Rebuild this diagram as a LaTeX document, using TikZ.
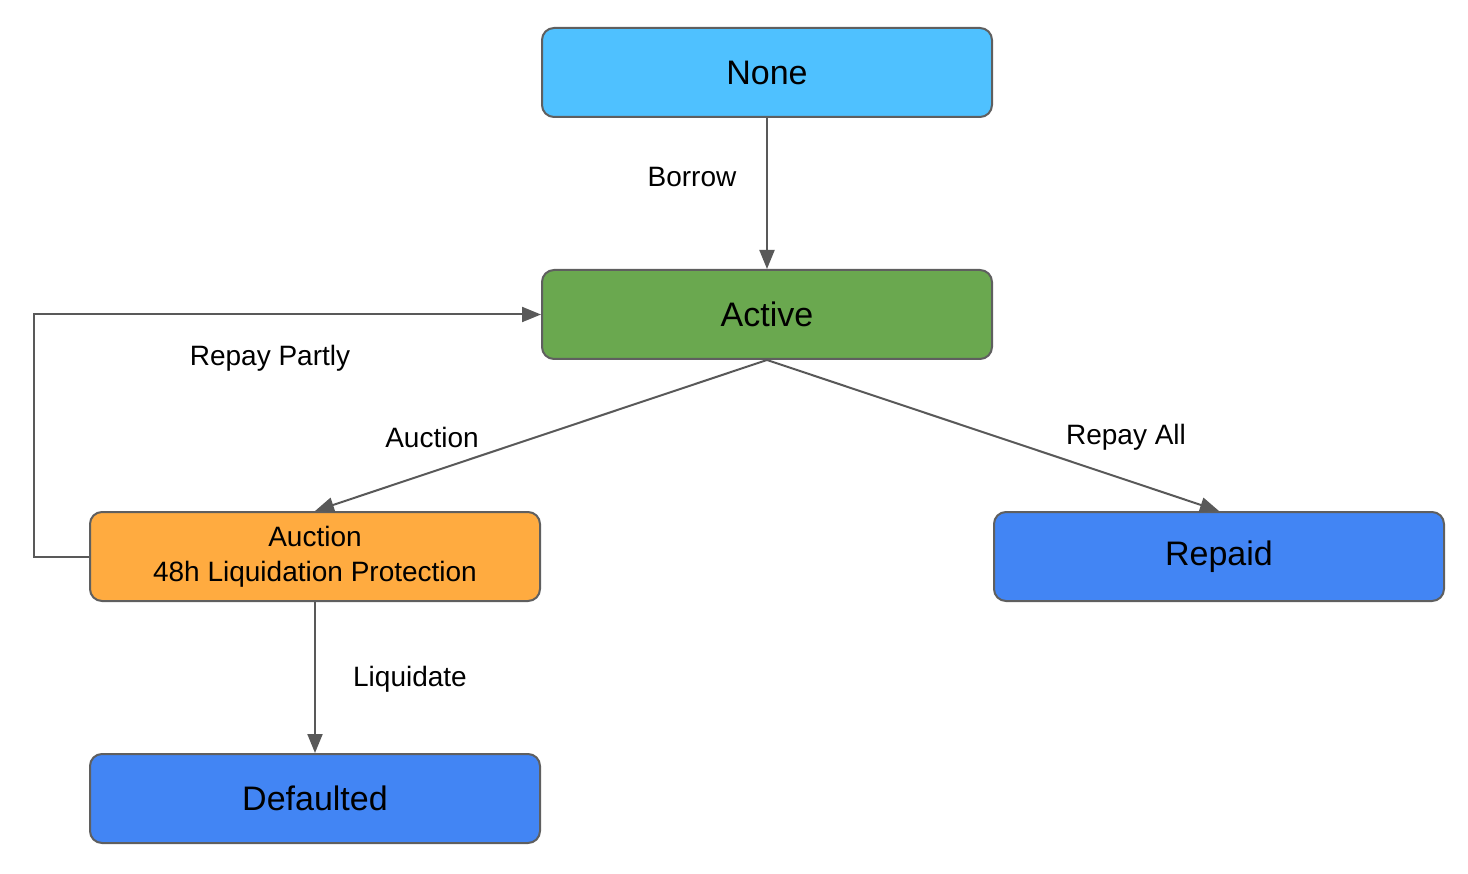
\documentclass[tikz,border=0pt]{standalone}
\usepackage{fontspec}
\setmainfont{Liberation Sans}
\usetikzlibrary{arrows.meta}
\definecolor{cnone}{HTML}{4FC1FF}
\definecolor{cactive}{HTML}{6AA84F}
\definecolor{cauction}{HTML}{FFAB40}
\definecolor{cblue}{HTML}{4285F4}
\definecolor{cborder}{HTML}{5F5F5F}
\definecolor{cline}{HTML}{595959}
\begin{document}
\begin{tikzpicture}[x=1pt,y=-1pt,
  state/.style={draw=cborder,line width=2pt,rounded corners=12pt,minimum width=450pt,minimum height=89pt,inner sep=0pt,align=center,text=black},
  big/.style={font=\fontsize{34}{40}\selectfont},
  small/.style={font=\fontsize{28}{35}\selectfont},
  lbl/.style={font=\fontsize{28}{34}\selectfont,inner sep=0pt,text=black},
  conn/.style={draw=cline,line width=2pt,-{Triangle[length=19pt,width=15pt]}}]
\useasboundingbox (0,0) rectangle (1468,874);
\node[state,big,fill=cnone] (none) at (767,72.5) {None};
\node[state,big,fill=cactive] (act) at (767,314.5) {Active};
\node[state,small,fill=cauction] (auc) at (315,556.5) {Auction\\48h Liquidation Protection};
\node[state,big,fill=cblue] (rep) at (1219,556.5) {Repaid};
\node[state,big,fill=cblue] (def) at (315,798.5) {Defaulted};
\coordinate (loop) at (34,556.5);
\draw[conn] (none.south) -- (act.north);
\draw[conn] (act.south) -- (auc.north);
\draw[conn] (act.south) -- (rep.north);
\draw[conn] (auc.west) -- (loop) |- (act.west);
\draw[conn] (auc.south) -- (def.north);
\node[lbl] (lborrow) at (692,177) {Borrow};
\node[lbl] (lauction) at (432,437) {Auction};
\node[lbl] (lrepayall) at (1126,437) {Repay All};
\node[lbl] (lrepaypartly) at (270,358) {Repay Partly};
\node[lbl] (lliquidate) at (410,679) {Liquidate};
\end{tikzpicture}
\end{document}
